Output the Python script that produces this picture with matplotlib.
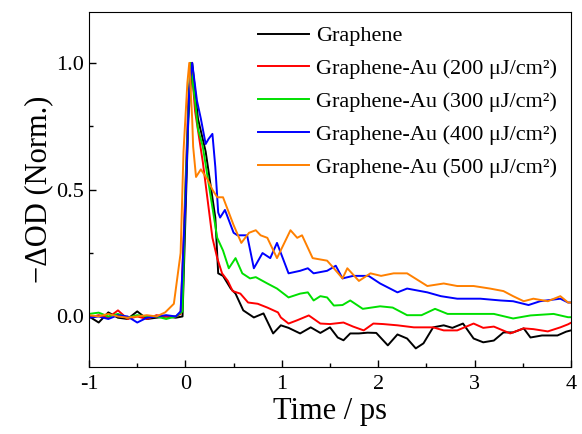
import matplotlib
matplotlib.use("Agg")
import matplotlib.pyplot as plt
from matplotlib.ticker import MultipleLocator, FuncFormatter

plt.rcParams['font.family'] = ['Liberation Serif', 'DejaVu Serif']

base_t = [-1.0, -0.9, -0.8, -0.7, -0.6, -0.5, -0.4, -0.3, -0.2, -0.1]

t_black = base_t + [-0.03, 0.0, 0.03, 0.07, 0.13, 0.21, 0.26, 0.31, 0.34, 0.39, 0.47, 0.52, 0.60,
                    0.71, 0.81, 0.91, 0.99, 1.07, 1.19, 1.30, 1.40, 1.50, 1.58, 1.64, 1.71, 1.80,
                    1.89, 1.98, 2.10, 2.20, 2.30, 2.39, 2.47, 2.57, 2.68, 2.77, 2.88, 2.99, 3.09,
                    3.20, 3.30, 3.40, 3.51, 3.58, 3.70, 3.86, 3.95, 4.0]
y_black = [0.0, -0.024, 0.016, -0.005, -0.01, 0.02, -0.01, -0.005, 0.0, -0.005,
           0.0, 0.39, 0.78, 1.0, 0.78, 0.65, 0.52, 0.39, 0.17, 0.16, 0.11, 0.09, 0.024,
           -0.004, 0.012, -0.067, -0.035, -0.045, -0.067, -0.043, -0.065, -0.043, -0.083,
           -0.094, -0.067, -0.067, -0.064, -0.065, -0.114, -0.071, -0.087, -0.126, -0.106,
           -0.043, -0.035, -0.045, -0.028, -0.087, -0.102, -0.095, -0.063, -0.063, -0.047,
           -0.083, -0.075, -0.075, -0.06, -0.055]

t_red = base_t + [-0.05, -0.02, 0.03, 0.06, 0.10, 0.18, 0.23, 0.28, 0.33, 0.38, 0.44, 0.49, 0.57,
                  0.65, 0.75, 0.85, 0.96, 0.99, 1.07, 1.16, 1.28, 1.40, 1.50, 1.64, 1.74, 1.85,
                  1.95, 2.05, 2.20, 2.37, 2.57, 2.68, 2.82, 2.99, 3.09, 3.20, 3.37, 3.51, 3.61,
                  3.76, 3.89, 3.97, 4.0]
y_red = [-0.005, 0.005, -0.005, 0.024, -0.01, 0.0, -0.01, 0.005, 0.0, 0.0,
         0.01, 0.3, 0.85, 1.0, 0.81, 0.61, 0.46, 0.31, 0.23, 0.17, 0.14, 0.10, 0.09,
         0.055, 0.05, 0.035, 0.016, -0.004, -0.028, -0.015, 0.004, -0.028, -0.03, -0.024,
         -0.04, -0.055, -0.028, -0.03, -0.035, -0.043, -0.043, -0.055, -0.055, -0.028,
         -0.045, -0.04, -0.067, -0.047, -0.05, -0.059, -0.043, -0.031, -0.025]

t_green = base_t + [-0.03, 0.0, 0.05, 0.10, 0.13, 0.18, 0.23, 0.28, 0.33, 0.39, 0.45, 0.52, 0.59,
                    0.67, 0.73, 0.85, 0.95, 1.07, 1.19, 1.27, 1.33, 1.40, 1.47, 1.54, 1.63, 1.71,
                    1.84, 2.02, 2.15, 2.30, 2.45, 2.59, 2.72, 2.99, 3.20, 3.40, 3.58, 3.82, 3.97, 4.0]
y_green = [0.01, 0.015, 0.0, 0.01, -0.005, 0.005, 0.0, 0.0, -0.01, 0.0,
           0.02, 0.5, 1.0, 0.85, 0.74, 0.67, 0.55, 0.43, 0.31, 0.26, 0.19, 0.23, 0.17,
           0.15, 0.155, 0.13, 0.11, 0.075, 0.09, 0.095, 0.063, 0.08, 0.075, 0.043, 0.045,
           0.063, 0.03, 0.04, 0.035, 0.005, 0.005, 0.03, 0.01, 0.01, 0.01, -0.008, 0.004,
           0.01, -0.003, -0.003]

t_blue = base_t + [-0.05, 0.0, 0.04, 0.07, 0.12, 0.16, 0.21, 0.24, 0.28, 0.31, 0.34, 0.36, 0.41,
                   0.50, 0.54, 0.64, 0.71, 0.80, 0.88, 0.95, 0.99, 1.07, 1.19, 1.27, 1.33, 1.47,
                   1.56, 1.63, 1.74, 1.90, 2.02, 2.20, 2.30, 2.51, 2.65, 2.82, 3.06, 3.27, 3.40,
                   3.56, 3.68, 3.89, 3.97, 4.0]
y_blue = [-0.005, 0.0, -0.01, 0.005, 0.0, -0.024, -0.005, 0.0, 0.005, 0.0,
          0.02, 0.45, 0.9, 1.0, 0.85, 0.78, 0.68, 0.70, 0.72, 0.59, 0.41, 0.39, 0.42,
          0.33, 0.32, 0.32, 0.19, 0.25, 0.23, 0.29, 0.25, 0.17, 0.18, 0.19, 0.17, 0.18,
          0.20, 0.15, 0.16, 0.16, 0.13, 0.095, 0.11, 0.095, 0.08, 0.07, 0.07, 0.063,
          0.06, 0.045, 0.06, 0.07, 0.055, 0.055]

t_orange = [-1.0, -0.9, -0.8, -0.7, -0.6, -0.5, -0.4, -0.3] + [
    -0.21, -0.12, -0.05, -0.02, 0.02, 0.04, 0.07, 0.08, 0.11, 0.16, 0.23, 0.28, 0.33,
    0.39, 0.44, 0.50, 0.58, 0.66, 0.73, 0.78, 0.85, 0.95, 1.09, 1.16, 1.21, 1.32, 1.47,
    1.54, 1.63, 1.68, 1.80, 1.92, 2.03, 2.16, 2.30, 2.51, 2.68, 2.82, 2.99, 3.16, 3.30,
    3.40, 3.51, 3.61, 3.76, 3.89, 3.97, 4.0]
y_orange = [0.005, 0.0, 0.01, 0.0, -0.005, 0.0, 0.005, 0.0,
            0.016, 0.05, 0.25, 0.65, 0.92, 1.0, 0.78, 0.67, 0.55, 0.58, 0.54, 0.50, 0.47,
            0.47, 0.42, 0.36, 0.29, 0.33, 0.34, 0.32, 0.31, 0.23, 0.34, 0.31, 0.32, 0.23,
            0.22, 0.19, 0.15, 0.19, 0.14, 0.17, 0.16, 0.17, 0.17, 0.12, 0.13, 0.12, 0.12,
            0.11, 0.10, 0.08, 0.06, 0.07, 0.06, 0.08, 0.055, 0.055]

labels = ['Graphene',
          'Graphene-Au (200 \u03bcJ/cm\u00b2)',
          'Graphene-Au (300 \u03bcJ/cm\u00b2)',
          'Graphene-Au (400 \u03bcJ/cm\u00b2)',
          'Graphene-Au (500 \u03bcJ/cm\u00b2)']
colors = ['#000000', '#ff0000', '#00e000', '#0000ff', '#ff8000']

fig = plt.figure(figsize=(5.82, 4.34), dpi=100)
ax = fig.add_axes([0.153, 0.154, 0.828, 0.818])

series = [(t_black, y_black), (t_red, y_red), (t_green, y_green), (t_blue, y_blue), (t_orange, y_orange)]
for (t, y), c, lab in zip(series, colors, labels):
    ax.plot(t, y, color=c, lw=1.4, label=lab)

ax.set_xlim(-1, 4)
ax.set_ylim(-0.2, 1.2)
ax.xaxis.set_major_locator(MultipleLocator(1))
ax.xaxis.set_minor_locator(MultipleLocator(0.5))
ax.yaxis.set_major_locator(MultipleLocator(0.5))
ax.yaxis.set_minor_locator(MultipleLocator(0.25))
ax.tick_params(which='both', direction='in', top=False, right=False, labelsize=16)
ax.tick_params(which='major', length=5, width=1)
ax.tick_params(which='minor', length=3, width=1)
ax.tick_params(axis='x', pad=6)
ax.xaxis.set_major_formatter(FuncFormatter(lambda v, p: f"{v:.0f}"))
ax.yaxis.set_major_formatter(FuncFormatter(lambda v, p: f"{v:.1f}"))

ax.set_xlabel('Time / ps', fontsize=22, labelpad=2)
ax.set_ylabel('\u2212\u0394OD (Norm.)', fontsize=22, labelpad=2)

ax.legend(loc='upper right', frameon=False, fontsize=16, handlelength=2.3,
          handletextpad=0.3, labelspacing=0.55, borderaxespad=0.0, borderpad=0.62)

fig.savefig('out.png', dpi=100)
